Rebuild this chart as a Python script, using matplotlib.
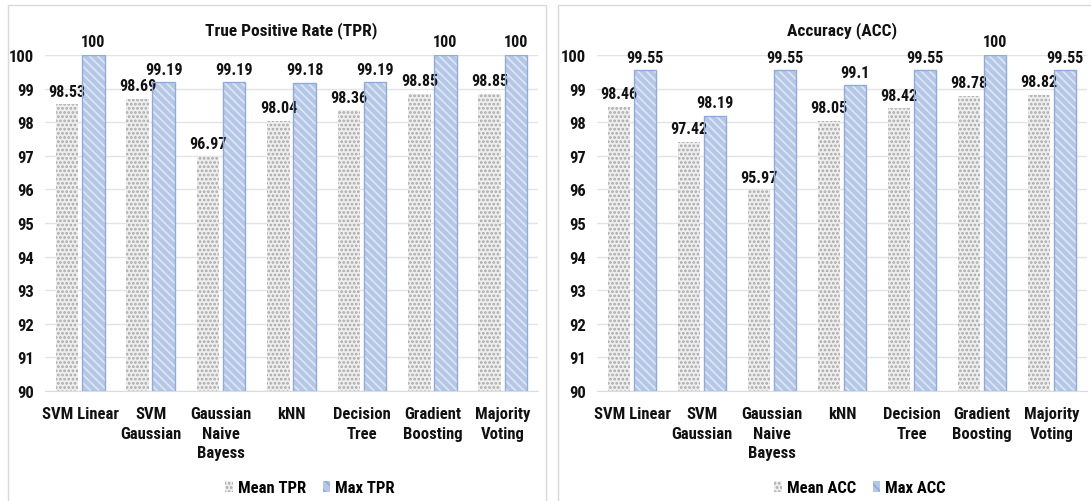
import matplotlib
matplotlib.use("Agg")
import matplotlib.pyplot as plt
from matplotlib.patches import Rectangle, Patch
import numpy as np

plt.rcParams['font.family'] = ['Roboto Condensed', 'DejaVu Sans']
plt.rcParams['font.weight'] = 'bold'
plt.rcParams['hatch.linewidth'] = 1.3

categories = ["SVM Linear", "SVM\nGaussian", "Gaussian\nNaive\nBayess", "kNN",
              "Decision\nTree", "Gradient\nBoosting", "Majority\nVoting"]

tpr_mean = [98.53, 98.69, 96.97, 98.04, 98.36, 98.85, 98.85]
tpr_max = [100, 99.19, 99.19, 99.18, 99.19, 100, 100]
acc_mean = [98.46, 97.42, 95.97, 98.05, 98.42, 98.78, 98.82]
acc_max = [99.55, 98.19, 99.55, 99.1, 99.55, 100, 99.55]

yticks = list(range(90, 101))

W, H = 1091, 502
fig = plt.figure(figsize=(W / 100, H / 100), dpi=100)

# panel frames
for x0, x1 in [(8, 546), (558, 1100)]:
    fig.patches.append(Rectangle((x0 / W, -0.05), (x1 - x0) / W, (H - 6) / H + 0.05,
                                 transform=fig.transFigure, fill=False,
                                 edgecolor='#d9d9d9', linewidth=1.0, zorder=0))

TEXT = '#111111'
MEAN_FACE = '#eeeeee'
MEAN_DOT = '#a8a8a8'
MAX_FACE = '#b4c7e7'
MAX_STRIPE = '#dce5f4'
MAX_EDGE = '#8faadc'


def draw_panel(rect, title, mean_vals, max_vals, labels, legend_x):
    ax = fig.add_axes(rect)
    x = np.arange(len(categories))
    w = 0.32
    off = 0.185
    mean_h = [v - 90 for v in mean_vals]
    max_h = [v - 90 for v in max_vals]
    # mean bars: light gray with dot texture
    ax.bar(x - off, mean_h, w, bottom=90, color=MEAN_FACE, edgecolor='none', zorder=2)
    ax.bar(x - off, mean_h, w, bottom=90, color='none', edgecolor=MEAN_DOT,
           hatch='....', linewidth=0, zorder=3)
    # max bars: light blue with fine diagonal stripes
    ax.bar(x + off, max_h, w, bottom=90, color=MAX_FACE, edgecolor='none', zorder=2)
    ax.bar(x + off, max_h, w, bottom=90, color='none', edgecolor=MAX_STRIPE,
           hatch='\\\\\\\\', linewidth=0, zorder=3)
    ax.bar(x + off, max_h, w, bottom=90, color='none', edgecolor=MAX_EDGE,
           linewidth=1.0, zorder=4)

    for xi, v in zip(x, mean_vals):
        ax.annotate(f"{v:g}", (xi - off, v), xytext=(0, 4), textcoords='offset points',
                    ha='center', va='bottom', fontsize=11.5, fontweight='bold', color=TEXT)
    for xi, v in zip(x, max_vals):
        ax.annotate(f"{v:g}", (xi + off, v), xytext=(0, 4), textcoords='offset points',
                    ha='center', va='bottom', fontsize=11.5, fontweight='bold', color=TEXT)

    ax.set_ylim(90, 100)
    ax.set_xlim(-0.5, len(categories) - 0.5)
    ax.set_yticks(yticks)
    ax.set_yticklabels([str(t) for t in yticks], fontsize=12, fontweight='bold', color=TEXT)
    ax.set_xticks(x)
    ax.set_xticklabels(categories, fontsize=12, fontweight='bold', color=TEXT,
                       linespacing=1.38)
    ax.tick_params(axis='both', length=0)
    ax.tick_params(axis='y', pad=8)
    ax.tick_params(axis='x', pad=11)
    ax.grid(axis='y', color='#e3e3e3', linewidth=1.0, zorder=0)
    ax.set_axisbelow(True)
    for s in ['top', 'right', 'left']:
        ax.spines[s].set_visible(False)
    ax.spines['bottom'].set_color('#d6dce8')
    ax.spines['bottom'].set_zorder(5)
    ax.set_title(title, fontsize=12.5, fontweight='bold', color=TEXT, pad=15)

    handles = [Patch(facecolor=MEAN_FACE, edgecolor=MEAN_DOT, hatch='....', linewidth=0),
               Patch(facecolor=MAX_FACE, edgecolor=MAX_EDGE, hatch='\\\\\\', linewidth=0)]
    fig.legend(handles, labels, loc='center', bbox_to_anchor=(legend_x, 1 - 489 / H),
               ncol=2, frameon=False, handlelength=0.45, handleheight=0.6,
               handletextpad=0.3, columnspacing=1.0,
               prop={'weight': 'bold', 'size': 12})
    return ax


draw_panel([45 / W, 1 - 392 / H, 493 / W, 336 / H], "True Positive Rate (TPR)",
           tpr_mean, tpr_max, ["Mean TPR", "Max TPR"], 310 / W)
draw_panel([597 / W, 1 - 392 / H, 490 / W, 336 / H], "Accuracy (ACC)",
           acc_mean, acc_max, ["Mean ACC", "Max ACC"], 860 / W)

fig.savefig("out.png", dpi=100)
